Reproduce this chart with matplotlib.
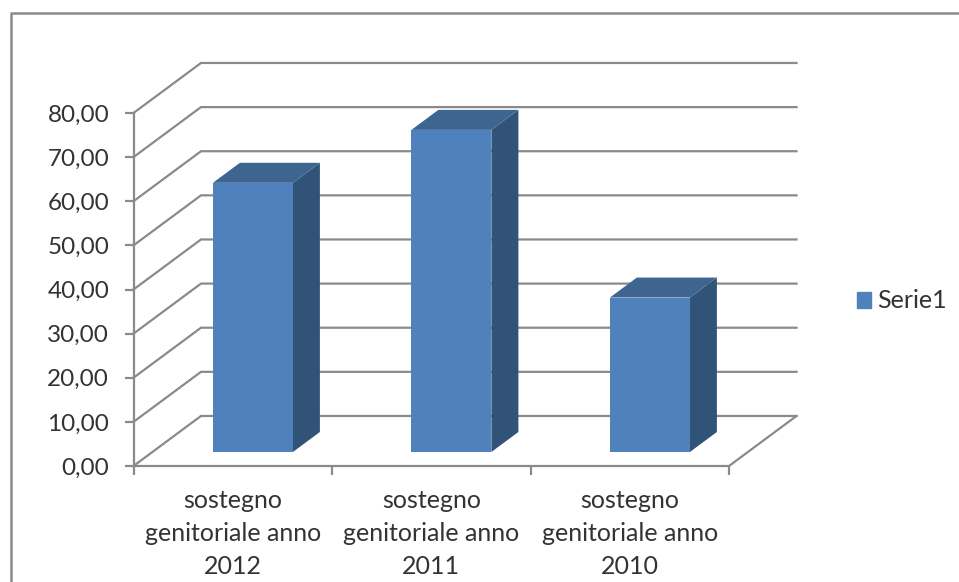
#coding:utf8

import matplotlib
matplotlib.use("Agg")
import matplotlib.pyplot as plt
from matplotlib.patches import Polygon, Rectangle

categorie = ["sostegno\ngenitoriale anno\n2012",
             "sostegno\ngenitoriale anno\n2011",
             "sostegno\ngenitoriale anno\n2010"]
valori = [61.0, 73.0, 35.0]
tacche = [0, 10, 20, 30, 40, 50, 60, 70, 80]
serie = "Serie1"

W, H = 959, 582
GRIGIO = "#8a8a8a"
TESTO = "#333333"
FRONTE = "#4f81bd"
LATO = "#325378"
SOPRA = "#3e6490"

plt.rcParams['font.family'] = ['Lato', 'DejaVu Sans']

fig = plt.figure(figsize=(W / 100, H / 100), dpi=100)

# cornice esterna (solo sopra e a sinistra, il resto e' tagliato)
fig.add_artist(plt.Line2D([10.5 / W, 10.5 / W, 1], [0, 1 - 12.5 / H, 1 - 12.5 / H],
                          color=GRIGIO, lw=1.8))

ax = fig.add_axes([133.5 / W, 1 - 466 / H, (729 - 133.5) / W, (466 - 113) / H])
ax.set_xlim(0, 3)
ax.set_ylim(0, 80)
ax.patch.set_alpha(0)
for lato in ["top", "right"]:
    ax.spines[lato].set_visible(False)
for lato in ["left", "bottom"]:
    ax.spines[lato].set_color(GRIGIO)
    ax.spines[lato].set_linewidth(1.6)

# profondita' della parete di fondo, in unita' degli assi
dx = 67.5 / 198.5
dy = 50 / 4.41

# griglia: parete laterale + parete di fondo
for t in tacche:
    ax.plot([0, dx, 3 + dx], [t, t + dy, t + dy], color=GRIGIO, lw=1.6,
            clip_on=False, zorder=1, solid_joinstyle="miter")
ax.plot([3, 3 + dx], [0, dy], color=GRIGIO, lw=1.6, clip_on=False, zorder=1)

# barre finte 3D
larg = 0.403
bx = 27 / 198.5
by = 20 / 4.41
base = 14 / 4.41
for i, v in enumerate(valori):
    x0 = i + 0.4
    x1 = x0 + larg
    y0 = base
    y1 = base + v
    ax.add_patch(Polygon([(x1, y0), (x1 + bx, y0 + by), (x1 + bx, y1 + by), (x1, y1)],
                         facecolor=LATO, edgecolor="none", clip_on=False, zorder=3))
    ax.add_patch(Polygon([(x0, y1), (x1, y1), (x1 + bx, y1 + by), (x0 + bx, y1 + by)],
                         facecolor=SOPRA, edgecolor="none", clip_on=False, zorder=3))
    ax.bar(x0, v, width=larg, bottom=y0, align="edge", color=FRONTE, zorder=4, clip_on=False)

ax.set_yticks(tacche)
ax.set_yticklabels([f"{t:.2f}".replace(".", ",") for t in tacche])
ax.set_xticks([0, 1, 2, 3])
ax.set_xticklabels([])
ax.tick_params(axis="y", length=6.5, width=1.6, color=GRIGIO, labelcolor=TESTO,
               labelsize=17.5, pad=11)
ax.tick_params(axis="x", length=6.5, width=1.6, color=GRIGIO)

# etichette delle categorie
for i, nome in enumerate(categorie):
    ax.text(i + 0.5, -5.2, nome, ha="center", va="top", color=TESTO, fontsize=18,
            linespacing=1.54, clip_on=False)

# legenda
ax.legend([Rectangle((0, 0), 1, 1, color=FRONTE)], [serie], loc="center left",
          bbox_to_anchor=((857 - 133.5) / (729 - 133.5), (466 - 301) / (466 - 113)),
          frameon=False, fontsize=18, labelcolor=TESTO, handlelength=0.54,
          handleheight=0.6, handletextpad=0.28, borderpad=0, borderaxespad=0)

fig.savefig("out.png", dpi=100)
